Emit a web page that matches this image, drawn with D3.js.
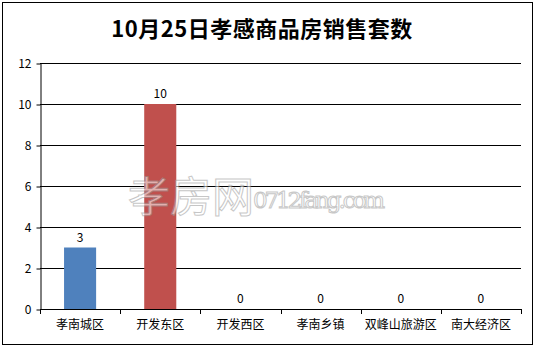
<!DOCTYPE html>
<html>
<head>
<meta charset="utf-8">
<script src="https://cdn.jsdelivr.net/npm/d3@7"></script>
<style>
  body { margin: 0; background: #fff; }
</style>
</head>
<body>
<svg width="537" height="348"></svg>
<script>
const categories = ["孝南城区", "开发东区", "开发西区", "孝南乡镇", "双峰山旅游区", "南大经济区"];
const values = [3, 10, 0, 0, 0, 0];
const barColors = ["#4F81BD", "#C0504D", "#4F81BD", "#4F81BD", "#4F81BD", "#4F81BD"];
const yTicks = [0, 2, 4, 6, 8, 10, 12];

const svg = d3.select("svg");
const labelFont = "'Noto Sans CJK SC', 'DejaVu Sans', sans-serif";

// outer frame
svg.append("rect")
   .attr("x", 2.5).attr("y", 2.5)
   .attr("width", 530).attr("height", 342)
   .attr("fill", "#fff")
   .attr("stroke", "#000")
   .attr("stroke-width", 1);

// title
svg.append("text")
   .attr("x", 262)
   .attr("y", 37)
   .attr("text-anchor", "middle")
   .attr("font-size", "22px")
   .attr("font-weight", "bold")
   .attr("letter-spacing", "0.5px")
   .attr("font-family", "'Noto Sans CJK SC', serif")
   .attr("fill", "#000")
   .text("10月25日孝感商品房销售套数");

const x = d3.scaleBand().domain(categories).range([40, 521]).paddingInner(0.6).paddingOuter(0.3);
const y = d3.scaleLinear().domain([0, 12]).range([309, 63]);

// gridlines
svg.append("g")
   .selectAll("line")
   .data(yTicks.slice(1))
   .join("line")
   .attr("x1", 40).attr("x2", 521)
   .attr("y1", d => Math.round(y(d)) + 0.5)
   .attr("y2", d => Math.round(y(d)) + 0.5)
   .attr("stroke", "#000");

// y axis
const yAxis = svg.append("g")
   .attr("transform", "translate(40.5,0.5)")
   .call(d3.axisLeft(y).tickValues(yTicks).tickSize(4).tickSizeOuter(0));
yAxis.select(".domain").attr("stroke", "#000");
yAxis.selectAll("text")
   .attr("font-size", "12px")
   .attr("font-family", labelFont)
   .attr("fill", "#000")
   .attr("dx", "-2");

// bars
svg.append("g")
   .selectAll("rect")
   .data(values)
   .join("rect")
   .attr("x", (d, i) => x(categories[i]))
   .attr("y", d => y(d))
   .attr("width", x.bandwidth())
   .attr("height", d => y(0) - y(d))
   .attr("fill", (d, i) => barColors[i]);

// watermark
const wm = svg.append("g").attr("opacity", 0.55);
wm.append("text")
   .attr("x", 128).attr("y", 212)
   .attr("font-size", "42px")
   .attr("font-family", "'Noto Sans CJK SC', sans-serif")
   .attr("fill", "#fff")
   .attr("stroke", "#999")
   .attr("stroke-width", 1)
   .text("孝房网");
wm.append("text")
   .attr("x", 253).attr("y", 208)
   .attr("font-size", "23px")
   .attr("font-family", "'DejaVu Serif', serif")
   .attr("textLength", 132)
   .attr("fill", "#fff")
   .attr("stroke", "#999")
   .attr("stroke-width", 1)
   .text("0712fang.com");

// x axis
const xTickPos = d3.range(categories.length + 1).map(i => 40 + i * x.step());
svg.append("line")
   .attr("x1", 40).attr("x2", 521)
   .attr("y1", 309.5).attr("y2", 309.5)
   .attr("stroke", "#000");
svg.append("g")
   .selectAll("line")
   .data(xTickPos)
   .join("line")
   .attr("x1", d => Math.round(d) + 0.5).attr("x2", d => Math.round(d) + 0.5)
   .attr("y1", 309).attr("y2", 314)
   .attr("stroke", "#000");
svg.append("g")
   .selectAll("text")
   .data(categories)
   .join("text")
   .attr("x", d => x(d) + x.bandwidth() / 2)
   .attr("y", 329)
   .attr("text-anchor", "middle")
   .attr("font-size", "12px")
   .attr("font-family", labelFont)
   .attr("fill", "#000")
   .text(d => d);

// value labels
svg.append("g")
   .selectAll("text")
   .data(values)
   .join("text")
   .attr("x", (d, i) => x(categories[i]) + x.bandwidth() / 2)
   .attr("y", d => y(d) - 6)
   .attr("text-anchor", "middle")
   .attr("font-size", "12px")
   .attr("font-family", labelFont)
   .attr("fill", "#000")
   .text(d => d);
</script>
</body>
</html>
